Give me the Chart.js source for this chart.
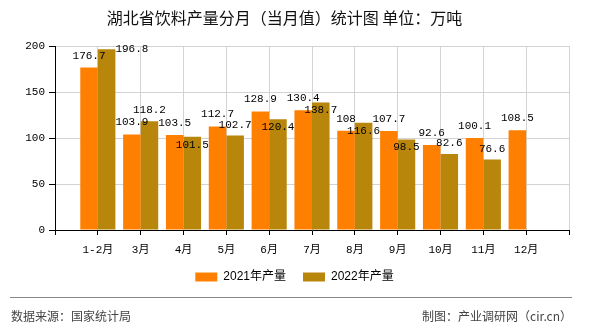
<!DOCTYPE html>
<html>
<head>
<meta charset="utf-8">
<script src="https://cdn.jsdelivr.net/npm/chart.js@4/dist/chart.umd.min.js"></script>
<style>
html,body{margin:0;padding:0;background:#fff;}
#wrap{position:relative;width:590px;height:330px;}
</style>
</head>
<body>
<div id="wrap"><canvas id="c" width="590" height="330"></canvas></div>
<script>
const categories = ['1-2月','3月','4月','5月','6月','7月','8月','9月','10月','11月','12月'];
const series2021 = [176.7,103.9,103.5,112.7,128.9,130.4,108,107.7,92.6,100.1,108.5];
const series2022 = [196.8,118.2,101.5,102.7,120.4,138.7,116.6,98.5,82.6,76.6,null];
const seriesNames = ['2021年产量','2022年产量'];
const yTicks = [0,50,100,150,200];
const titleText = '湖北省饮料产量分月（当月值）统计图 单位：万吨';
const sourceText = '数据来源：国家统计局';
const makerText = '制图：产业调研网（cir.cn）';

const labels = ['', ...categories, ''];
const d1 = [null, ...series2021, null];
const d2 = [null, ...series2022, null];

const labelFont = '11px "Liberation Mono", "Noto Sans CJK SC", monospace';

const valueLabels = {
  id: 'valueLabels',
  afterDatasetsDraw(chart) {
    const ctx = chart.ctx;
    const area = chart.chartArea;
    ctx.save();
    ctx.font = labelFont;
    ctx.fillStyle = '#000';
    ctx.textAlign = 'center';
    ctx.textBaseline = 'middle';
    const m1 = chart.getDatasetMeta(0), m2 = chart.getDatasetMeta(1);
    const H = 10;
    const overlap = (a, b) => a.l < b.r && b.l < a.r && a.t < b.b && b.t < a.b;
    for (let i = 0; i < labels.length; i++) {
      let r1 = null;
      const v1 = d1[i], v2 = d2[i];
      if (v1 != null) {
        const el = m1.data[i];
        const t = String(v1);
        const w = ctx.measureText(t).width;
        const cy = el.y - 12;
        ctx.fillText(t, el.x, cy);
        r1 = {l: el.x - w/2, r: el.x + w/2, t: cy - H/2, b: cy + H/2};
      }
      if (v2 != null) {
        const el = m2.data[i];
        const t = String(v2);
        const w = ctx.measureText(t).width;
        const cands = [
          {cx: el.x, cy: el.y - 11},
          {cx: el.x, cy: el.y + 8},
          {cx: el.x + el.width/2 + w/2, cy: el.y}
        ];
        let pick = cands[cands.length - 1];
        for (const c of cands) {
          const r = {l: c.cx - w/2, r: c.cx + w/2, t: c.cy - H/2, b: c.cy + H/2};
          if (r.t < area.top - 4) continue;
          if (r1 && overlap(r, r1)) continue;
          pick = c; break;
        }
        ctx.fillText(t, pick.cx, pick.cy);
      }
    }
    ctx.restore();
  }
};

const footer = {
  id: 'footer',
  afterDraw(chart) {
    const ctx = chart.ctx;
    ctx.save();
    ctx.strokeStyle = '#888';
    ctx.lineWidth = 1;
    ctx.beginPath();
    ctx.moveTo(10, 297.5);
    ctx.lineTo(572, 297.5);
    ctx.stroke();
    ctx.font = '12px "Noto Sans CJK SC", sans-serif';
    ctx.fillStyle = '#444';
    ctx.textBaseline = 'middle';
    ctx.textAlign = 'left';
    ctx.fillText(sourceText, 11, 316);
    ctx.textAlign = 'right';
    ctx.fillText(makerText, 572, 316);
    ctx.restore();
  }
};

const legendShift = {
  id: 'legendShift',
  afterLayout(chart) {
    if (chart.legend) { chart.legend.left += 10; chart.legend.right += 10; }
  }
};

const whiteBg = {
  id: 'whiteBg',
  beforeDraw(chart) {
    const ctx = chart.ctx;
    ctx.save();
    ctx.fillStyle = '#fff';
    ctx.fillRect(0, 0, chart.width, chart.height);
    ctx.restore();
  }
};

new Chart(document.getElementById('c'), {
  type: 'bar',
  data: {
    labels: labels,
    datasets: [
      {label: seriesNames[0], data: d1, backgroundColor: '#FF8000', borderWidth: 0},
      {label: seriesNames[1], data: d2, backgroundColor: '#B8860B', borderWidth: 0}
    ]
  },
  options: {
    responsive: false,
    animation: false,
    categoryPercentage: 0.82,
    barPercentage: 1,
    layout: {padding: {left: 0, right: 21, top: 0, bottom: 37}},
    plugins: {
      tooltip: {enabled: false},
      title: {
        display: true,
        text: titleText,
        color: '#111',
        font: {family: '"Noto Sans CJK SC", sans-serif', size: 16, weight: 'normal'},
        padding: {top: 8, bottom: 19}
      },
      legend: {
        position: 'bottom',
        labels: {
          boxWidth: 22,
          boxHeight: 9,
          padding: 17,
          color: '#000',
          font: {family: '"Liberation Sans", "Noto Sans CJK SC", sans-serif', size: 12}
        }
      }
    },
    scales: {
      x: {
        offset: false,
        grid: {offset: false, color: '#d3d3d3', tickColor: '#000', tickLength: 5, drawOnChartArea: true},
        border: {color: '#000'},
        ticks: {autoSkip: false, maxRotation: 0, padding: 8, color: '#000',
          font: {family: '"Liberation Mono", "Noto Sans CJK SC", monospace', size: 11}},
        afterFit(s) { s.height = 24; }
      },
      y: {
        min: 0, max: 200,
        afterBuildTicks(s) { s.ticks = yTicks.map(v => ({value: v})); },
        grid: {color: '#d3d3d3', tickColor: '#000', tickLength: 6},
        border: {color: '#000'},
        ticks: {padding: 4, color: '#000',
          font: {family: '"Liberation Mono", monospace', size: 11}},
        afterFit(s) { s.width = 55; }
      }
    }
  },
  plugins: [whiteBg, legendShift, valueLabels, footer]
});
</script>
</body>
</html>
